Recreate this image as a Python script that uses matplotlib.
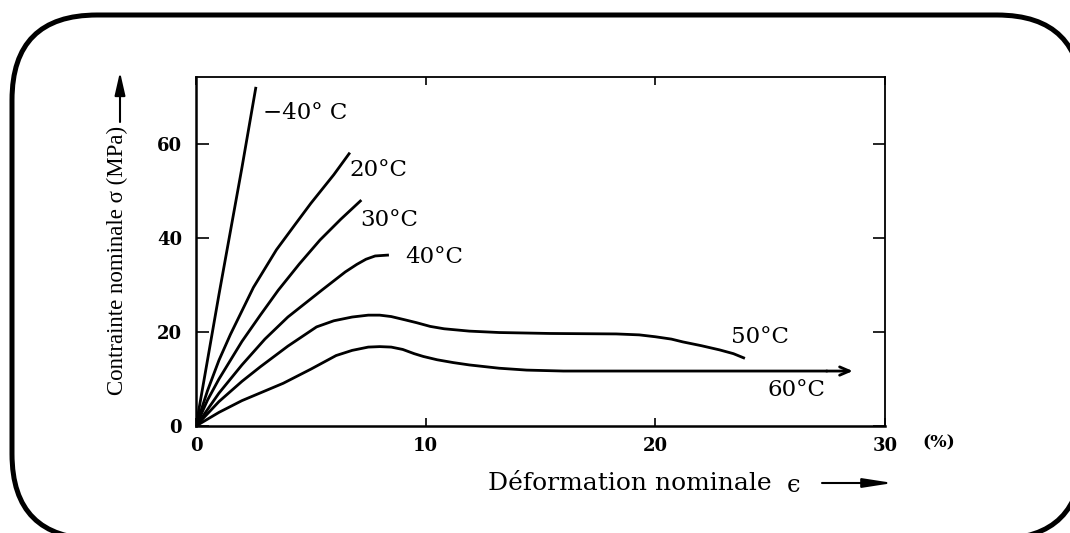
import matplotlib
matplotlib.use('Agg')
import matplotlib.pyplot as plt
from matplotlib.patches import FancyBboxPatch

# curves: strain (%) / stress (MPa)
X_M40 = [0, 0.5, 1, 1.5, 2, 2.61]
Y_M40 = [0, 14, 28, 41.5, 55, 72.2]
X_20 = [0, 0.5, 1, 1.5, 2.5, 3.5, 4.3, 5, 6, 6.7]
Y_20 = [0, 7.5, 14, 19.5, 29.5, 37.5, 42.8, 47.4, 53.5, 58.2]
X_30 = [0, 0.5, 1, 2, 2.8, 3.58, 4.5, 5.4, 6.3, 7.2]
Y_30 = [0, 5.5, 10, 18, 23.6, 28.9, 34.5, 39.6, 44, 48.1]
X_40 = [0, 1, 2, 3, 4, 5.5, 6.5, 7.0, 7.4, 7.8, 8.4]
Y_40 = [0, 7, 13, 18.5, 23.2, 29, 32.8, 34.4, 35.5, 36.2, 36.4]
X_50 = [0, 1, 2, 2.8, 4, 5.25, 6.0, 6.8, 7.5, 8.0, 8.5, 9.1, 9.6, 10.2, 10.8,
        11.9, 13.2, 15.4, 18.3, 19.3, 20, 20.7, 21.2, 22.0, 22.8, 23.4, 23.9]
Y_50 = [0, 5.2, 9.5, 12.6, 17, 21.1, 22.4, 23.2, 23.6, 23.6, 23.3, 22.6,
        22.0, 21.2, 20.7, 20.2, 19.9, 19.7, 19.6, 19.4, 19.0, 18.5, 17.9, 17.1,
        16.2, 15.4, 14.4]
X_60 = [0, 1, 2, 3.8, 5, 6.1, 6.8, 7.5, 8, 8.5, 9.0, 9.5, 9.9, 10.5, 11.2,
        11.9, 13.2, 14.4, 16, 27.5]
Y_60 = [0, 2.9, 5.4, 9.1, 12.1, 15.0, 16.1, 16.8, 16.9, 16.8, 16.3, 15.4,
        14.8, 14.1, 13.5, 13.0, 12.3, 11.9, 11.7, 11.7]
ARROW_END_60 = 28.6

CURVES = [(X_M40, Y_M40), (X_20, Y_20), (X_30, Y_30), (X_40, Y_40),
          (X_50, Y_50), (X_60, Y_60)]
LABELS = ['\u221240\u00b0 C', '20\u00b0C', '30\u00b0C', '40\u00b0C', '50\u00b0C', '60\u00b0C']
LABEL_POS = [(2.9, 66.6), (6.7, 54.5), (7.15, 43.8), (9.1, 36.0), (23.3, 19.0), (24.9, 7.7)]

X_TICKS = [0, 10, 20, 30]
Y_TICKS = [0, 20, 40, 60]

W, H = 1070, 533
fig = plt.figure(figsize=(W / 100, H / 100), dpi=100)

# background frame in pixel coords, cut by the figure edge like the scan
bg = fig.add_axes([0, 0, 1, 1])
bg.set_xlim(0, W)
bg.set_ylim(H, 0)
bg.axis('off')
frame = FancyBboxPatch((12, 15), 1082 - 12, 539 - 15,
                       boxstyle='round,pad=0,rounding_size=85',
                       facecolor='white', edgecolor='black', linewidth=3.6,
                       clip_on=True)
bg.add_patch(frame)

# main axes: x 196..885 px, y 77..426 px
ax = fig.add_axes([196 / W, 1 - 426 / H, (885 - 196) / W, (426 - 77) / H])
ax.set_xlim(0, 30)
ax.set_ylim(0, 74.3)
ax.patch.set_alpha(0)

for x, y in CURVES:
    ax.plot(x, y, color='black', linewidth=2.0, solid_capstyle='butt',
            solid_joinstyle='round')

# 60 C curve ends with an arrow
ax.annotate('', xy=(ARROW_END_60, Y_60[-1]), xytext=(X_60[-1] - 0.05, Y_60[-1]),
            arrowprops=dict(arrowstyle='->,head_length=0.7,head_width=0.3',
                            color='black', lw=2.0, shrinkA=0, shrinkB=0))

for lab, (lx, ly) in zip(LABELS, LABEL_POS):
    ax.text(lx, ly, lab, ha='left', va='center', fontsize=16.5,
            family='DejaVu Serif', color='black')

ax.set_xticks(X_TICKS)
ax.set_yticks(Y_TICKS)
ax.tick_params(axis='x', direction='in', length=6, width=1.2, top=True, pad=8,
               labelsize=13)
ax.tick_params(axis='y', direction='in', length=9, width=1.2, right=True, pad=10,
               labelsize=13)
for lbl in ax.get_xticklabels() + ax.get_yticklabels():
    lbl.set_family('DejaVu Serif')
    lbl.set_fontweight('bold')
for side in ['left', 'bottom']:
    ax.spines[side].set_linewidth(1.8)
for side in ['top', 'right']:
    ax.spines[side].set_linewidth(1.3)

# unit, axis titles and their arrows (figure pixel coords)
bg.text(939, 443, '(%)', ha='center', va='center', fontsize=12.5,
        family='DejaVu Serif', fontweight='bold')
bg.text(488, 483, 'D\u00e9formation nominale', ha='left', va='center',
        fontsize=18, family='DejaVu Serif')
bg.text(794, 485, '\u03f5', ha='center', va='center',
        fontsize=17.5, family='DejaVu Serif')
bg.annotate('', xy=(893, 483), xytext=(822, 483),
            arrowprops=dict(arrowstyle='-|>,head_length=1.8,head_width=0.28',
                            color='black', lw=1.5, shrinkA=0, shrinkB=0))
bg.text(117, 260, 'Contrainte nominale \u03c3 (MPa)', rotation=90,
        ha='center', va='center', fontsize=16.5, family='Liberation Serif')
bg.annotate('', xy=(120, 72), xytext=(120, 122),
            arrowprops=dict(arrowstyle='-|>,head_length=1.4,head_width=0.32',
                            color='black', lw=1.5, shrinkA=0, shrinkB=0))

fig.savefig('out.png', dpi=100, bbox_inches=None)
